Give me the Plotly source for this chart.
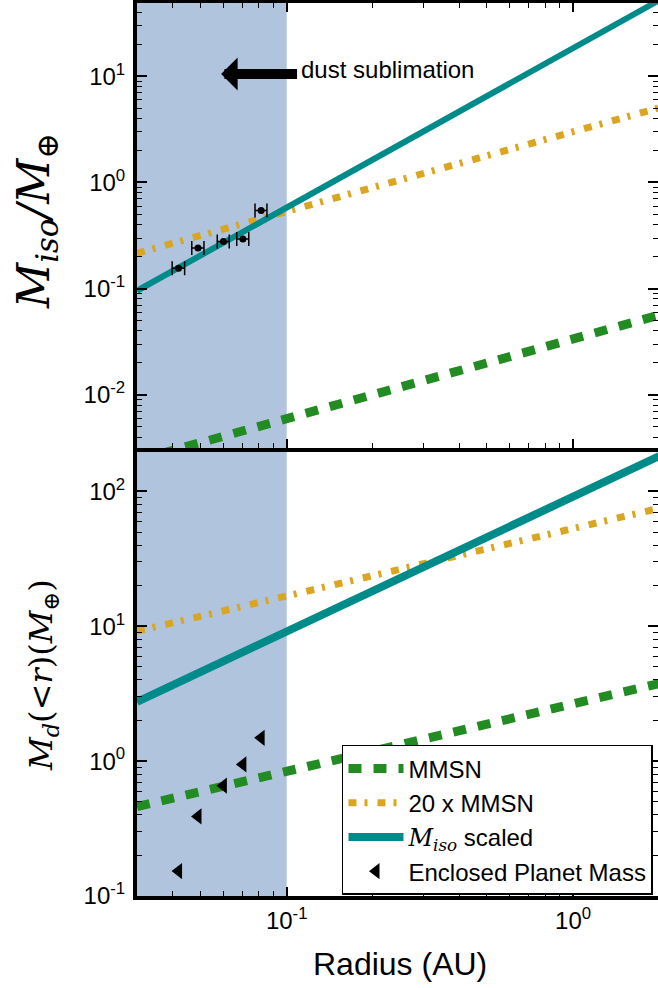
import numpy as np
import plotly.graph_objects as go

# ---------------- data ----------------
r_line = [0.03, 2.0]                 # radius end points of the power-law curves (AU)
top_mmsn = [0.00242, 0.0565]         # isolation mass, MMSN
top_20mmsn = [0.216, 5.05]           # isolation mass, 20 x MMSN
top_miso = [0.0955, 52.0]            # M_iso scaled
bot_mmsn = [0.46, 3.76]              # enclosed disk mass, MMSN
bot_20mmsn = [9.2, 75.1]             # enclosed disk mass, 20 x MMSN
bot_miso = [2.75, 183.0]             # enclosed disk mass, M_iso scaled

planet_r = [0.0419, 0.0490, 0.0601, 0.0703, 0.0814]
planet_r_err = [0.0021, 0.0024, 0.0029, 0.0034, 0.0039]
planet_m = [0.156, 0.241, 0.278, 0.293, 0.544]
enclosed_m = [0.153, 0.389, 0.658, 0.946, 1.49]

sublimation_r = [0.02, 0.1]          # shaded dust-sublimation zone (AU), clipped at axis edge
shade_m = [1e-4, 1e4]                # vertical extent of the shade (clipped at the panel)
arrow_tip_r, arrow_tail_r, arrow_m = 0.059, 0.11, 10.5

top_ticks = [0.01, 0.1, 1, 10]
top_ticktext = ["10<sup>-2</sup>", "10<sup>-1</sup>", "10<sup>0</sup>", "10<sup>1</sup>"]
bot_ticks = [0.1, 1, 10, 100]
bot_ticktext = ["10<sup>-1</sup>", "10<sup>0</sup>", "10<sup>1</sup>", "10<sup>2</sup>"]
x_ticks = [0.1, 1]
x_ticktext = ["10<sup>-1</sup>", "10<sup>0</sup>"]

# ---------------- style ----------------
TEAL = "#008B8B"
GOLD = "#DAA520"
GREEN = "#228B22"
SHADE = "#B0C4DE"
SANS = "Liberation Sans, Arial, sans-serif"
SERIF = "DejaVu Serif, Liberation Serif, serif"

W, H = 658, 988
L, R, T, B = 137, 0, 3, 92
split = 0.5017

minor_vals = [m * 10.0 ** e for e in range(-4, 4) for m in range(2, 10)]

DASH_G = "13px,12px"
DASH_O = "8px,8px,3px,10px"

fig = go.Figure()

shade_x = [sublimation_r[0], sublimation_r[1], sublimation_r[1], sublimation_r[0], sublimation_r[0]]
shade_y = [shade_m[0], shade_m[0], shade_m[1], shade_m[1], shade_m[0]]
for xa, ya in (("x", "y"), ("x2", "y2")):
    fig.add_trace(go.Scatter(x=shade_x, y=shade_y, mode="lines", fill="toself",
                             fillcolor=SHADE, line=dict(width=0), xaxis=xa, yaxis=ya,
                             showlegend=False, hoverinfo="skip"))

# top panel (x2, y2)
fig.add_trace(go.Scatter(x=r_line, y=top_mmsn, mode="lines", xaxis="x2", yaxis="y2",
                         line=dict(color=GREEN, width=9, dash=DASH_G), showlegend=False))
fig.add_trace(go.Scatter(x=r_line, y=top_20mmsn, mode="lines", xaxis="x2", yaxis="y2",
                         line=dict(color=GOLD, width=7, dash=DASH_O), showlegend=False))
fig.add_trace(go.Scatter(x=r_line, y=top_miso, mode="lines", xaxis="x2", yaxis="y2",
                         line=dict(color=TEAL, width=6), showlegend=False))
fig.add_trace(go.Scatter(x=planet_r, y=planet_m, mode="markers", xaxis="x2", yaxis="y2",
                         marker=dict(color="black", size=7, symbol="circle"),
                         error_x=dict(type="data", array=planet_r_err, color="black", thickness=1.5, width=7),
                         showlegend=False))

# bottom panel (x, y)
fig.add_trace(go.Scatter(x=r_line, y=bot_mmsn, mode="lines", name="MMSN", legendgroup="a",
                         line=dict(color=GREEN, width=9, dash=DASH_G)))
fig.add_trace(go.Scatter(x=r_line, y=bot_20mmsn, mode="lines", name="20 x MMSN", legendgroup="b",
                         line=dict(color=GOLD, width=7, dash=DASH_O)))
fig.add_trace(go.Scatter(x=r_line, y=bot_miso, mode="lines", legendgroup="c",
                         name=f"<span style='font-family:{SERIF}'><i>M</i><sub><i>iso</i></sub></span> scaled",
                         line=dict(color=TEAL, width=8)))
fig.add_trace(go.Scatter(x=planet_r, y=enclosed_m, mode="markers", name="Enclosed Planet Mass",
                         legendgroup="d",
                         marker=dict(color="black", size=14, symbol="triangle-left")))

# dummy traces for right-hand tick axes
fig.add_trace(go.Scatter(x=[], y=[], xaxis="x", yaxis="y3", showlegend=False))
fig.add_trace(go.Scatter(x=[], y=[], xaxis="x2", yaxis="y4", showlegend=False))

xr = [np.log10(0.03), np.log10(1.98)]

def xax(**kw):
    d = dict(type="log", range=xr, showgrid=False, zeroline=False, automargin=False,
             showline=True, linecolor="black", linewidth=4,
             ticks="inside", ticklen=9, tickwidth=1.5, tickcolor="black",
             tickmode="array", tickvals=x_ticks, ticktext=x_ticktext,
             minor=dict(ticks="inside", ticklen=5, tickwidth=1, tickcolor="black",
                        tickmode="array", tickvals=minor_vals),
             tickfont=dict(family=SANS, size=24, color="black"),
             ticklabelstandoff=0)
    d.update(kw)
    return d

def yax(rng, tv, tt, **kw):
    d = dict(type="log", range=rng, showgrid=False, zeroline=False, automargin=False,
             showline=True, linecolor="black", linewidth=4,
             ticks="inside", ticklen=10, tickwidth=1.5, tickcolor="black",
             tickmode="array", tickvals=tv, ticktext=tt,
             minor=dict(ticks="inside", ticklen=5, tickwidth=1, tickcolor="black",
                        tickmode="array", tickvals=minor_vals),
             tickfont=dict(family=SANS, size=24, color="black"),
             ticklabelstandoff=3)
    d.update(kw)
    return d

top_r = [-2.5, 1.69]
bot_r = [-1.0, 2.3225]

fig.update_layout(
    template="none",
    width=W, height=H,
    margin=dict(l=L, r=R, t=T, b=B, autoexpand=False),
    paper_bgcolor="white", plot_bgcolor="white",
    xaxis=xax(anchor="y", domain=[0, 1], mirror=False),
    xaxis2=xax(anchor="y2", domain=[0, 1], matches="x", showticklabels=False, mirror="ticks"),
    yaxis=yax(bot_r, bot_ticks, bot_ticktext, anchor="x", domain=[0, split]),
    yaxis2=yax(top_r, top_ticks, top_ticktext, anchor="x2", domain=[split, 1]),
    yaxis3=yax(bot_r, bot_ticks, bot_ticktext, anchor="x", overlaying="y", side="right",
               showline=False, showticklabels=False),
    yaxis4=yax(top_r, top_ticks, top_ticktext, anchor="x2", overlaying="y2", side="right",
               showline=False, showticklabels=False),
    showlegend=True,
    legend=dict(x=0.9904, y=0.1691, xanchor="right", yanchor="top",
                bgcolor="white", bordercolor="black", borderwidth=1.5,
                font=dict(family=SANS, size=24, color="black"),
                itemwidth=55, tracegroupgap=3, traceorder="normal"),
)

# arrow + label
fig.add_annotation(xref="x2", yref="y2", x=np.log10(arrow_tip_r), y=np.log10(arrow_m),
                   axref="x2", ayref="y2", ax=np.log10(arrow_tail_r), ay=np.log10(arrow_m),
                   showarrow=True, arrowhead=1, arrowsize=0.55, arrowwidth=10,
                   arrowcolor="black", text="", standoff=0, startstandoff=0)
fig.add_annotation(xref="x2", yref="y2", x=np.log10(arrow_tail_r), y=np.log10(arrow_m) + 0.045,
                   text="dust sublimation", showarrow=False, xanchor="left", yanchor="middle",
                   font=dict(family=SANS, size=24, color="black"))

# axis titles
fig.add_annotation(xref="paper", yref="paper", x=-0.1919, y=0.756, textangle=-90,
                   text="<i>M</i><sub><i>iso</i></sub><i>/M</i><sub>⊕</sub>",
                   showarrow=False, xanchor="center", yanchor="middle",
                   font=dict(family=SERIF, size=44, color="black"))
fig.add_annotation(xref="paper", yref="paper", x=-0.1804, y=0.2475, textangle=-90,
                   text="<i>M</i><sub><i>d</i></sub>(&lt;<i>r</i>)(<i>M</i><sub>⊕</sub>)",
                   showarrow=False, xanchor="center", yanchor="middle",
                   font=dict(family=SERIF, size=32, color="black"))
fig.add_annotation(xref="paper", yref="paper", x=0.5048, y=-0.0760,
                   text="Radius (AU)", showarrow=False, xanchor="center", yanchor="middle",
                   font=dict(family=SANS, size=32, color="black"))

fig.write_html("out.html", config={"displayModeBar": False},
               post_script="document.body.style.margin='0';document.body.style.overflow='hidden';")
